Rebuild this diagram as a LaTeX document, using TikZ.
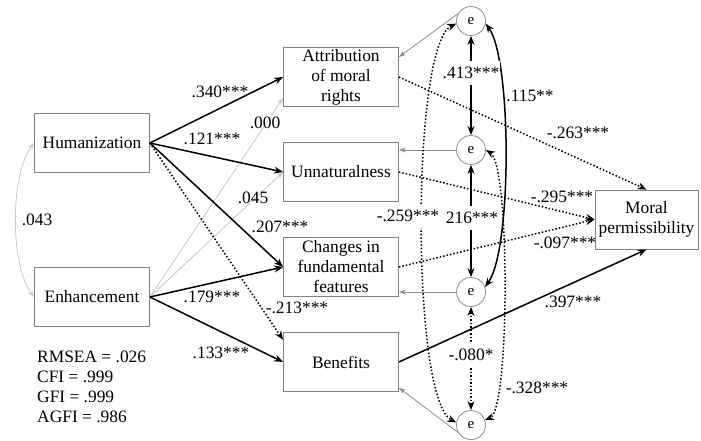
\documentclass[tikz,border=0pt]{standalone}
\usepackage{fontspec}
\setmainfont{Liberation Serif}
\usetikzlibrary{arrows.meta}

\definecolor{boxgray}{gray}{0.5}
\definecolor{errgray}{gray}{0.55}
\definecolor{faintgray}{gray}{0.78}

\tikzset{
  var/.style={draw=boxgray, line width=0.8pt, minimum width=115pt, minimum height=59pt, inner sep=0pt, align=center},
  err/.style={circle, draw=errgray, line width=0.8pt, minimum size=29pt, inner sep=0pt, font=\fontsize{15}{18}\selectfont},
  strong/.style={line width=1.5pt, >={Stealth[length=9pt,width=7pt]}},
  neg/.style={strong, dotted},
  weak/.style={faintgray, line width=0.8pt, >={Stealth[length=7pt,width=5pt]}},
  resid/.style={errgray, line width=0.8pt, >={Stealth[length=7pt,width=5pt]}},
  coef/.style={inner sep=1pt},
  gap/.style={fill=white, inner xsep=1pt, inner ysep=6pt},
}

\begin{document}
\begin{tikzpicture}[x=1pt,y=-1pt,font=\fontsize{17.4}{20}\selectfont]
  \useasboundingbox (0,0) rectangle (701,441);

  % predictors
  \node[var] (hum) at (92,143) {Humanization};
  \node[var] (enh) at (92,297) {Enhancement};
  % mediators
  \node[var] (attr) at (341,77) {Attribution\\of moral\\rights};
  \node[var] (unnat) at (341,172) {Unnaturalness};
  \node[var] (chg) at (341,267) {Changes in\\fundamental\\features};
  \node[var] (ben) at (341,362) {Benefits};
  % outcome
  \node[var,minimum width=103pt] (moral) at (646.5,219.5) {Moral\\permissibility};
  % residuals
  \node[err] (e1) at (471,21) {e};
  \node[err] (e2) at (471,150) {e};
  \node[err] (e3) at (471,292) {e};
  \node[err] (e4) at (471,425) {e};

  % covariance of predictors
  \draw[weak,<->] (hum.west) .. controls (10,175) and (10,265) .. (enh.west);
  \node[coef] (c043) at (37,220) {.043};

  % predictors -> mediators
  \draw[weak,->] (enh.east) -- (attr.200);
  \draw[weak,->] (enh.east) -- (unnat.west);
  \draw[strong,->] (hum.east) -- (attr.west);
  \draw[strong,->] (hum.east) -- (unnat.west);
  \draw[strong,->] (hum.east) -- (chg.west);
  \draw[neg,->] (hum.east) -- (ben.159);
  \draw[strong,->] (enh.east) -- (chg.west);
  \draw[strong,->] (enh.east) -- (ben.west);
  \node[coef] (c340) at (220,92) {.340***};
  \node[coef] (c121) at (212,139) {.121***};
  \node[coef] (c000) at (265,123) {.000};
  \node[coef] (c045) at (253,198) {.045};
  \node[coef] (c207) at (280,227) {.207***};
  \node[coef] (c179) at (212,297) {.179***};
  \node[coef] (c213) at (297,308) {-.213***};
  \node[coef] (c133) at (221,353) {.133***};

  % mediators -> outcome
  \draw[neg,->] (attr.east) -- (moral.north);
  \draw[neg,->] (unnat.east) -- (moral.west);
  \draw[neg,->] (chg.east) -- (moral.west);
  \draw[strong,->] (ben.east) -- (moral.south);
  \node[coef] (c263) at (578,133) {-.263***};
  \node[coef] (c295) at (562,197) {-.295***};
  \node[coef] (c097) at (565,243) {-.097***};
  \node[coef] (c397) at (573,302) {.397***};

  % residuals -> mediators
  \draw[resid,->] (e1.150) -- (attr.19);
  \draw[resid,->] (e2.west) -- (e2.west -| unnat.east);
  \draw[resid,->] (e3.west) -- (e3.west -| chg.east);
  \draw[resid,->] (e4.210) -- (ben.-24);

  % residual covariances
  \draw[strong,<->] (e1.-10) .. controls (512,60) and (512,250) .. (e3.20);
  \draw[neg,<->] (e2.east) .. controls (510,165) and (510,410) .. (e4.20);
  \draw[neg,<->] (e1.190) .. controls (411,45) and (411,400) .. (e4.170);
  \draw[strong,<->] (e1) -- (e2);
  \draw[strong,<->] (e2) -- (e3);
  \draw[neg,<->] (e3) -- (e4);
  \node[gap] (c413) at (471,73) {.413***};
  \node[gap] (c216) at (472,218) {216***};
  \node[gap] (c080) at (471,355) {-.080*};
  \node[gap] (c259) at (408,216) {-.259***};
  \node[coef] (c115) at (530,96) {.115**};
  \node[coef] (c328) at (537,388) {-.328***};

  % fit indices
  \node[anchor=north west,align=left,inner sep=0pt] (fit) at (37,351) {RMSEA = .026\\CFI = .999\\GFI = .999\\AGFI = .986};
\end{tikzpicture}
\end{document}
